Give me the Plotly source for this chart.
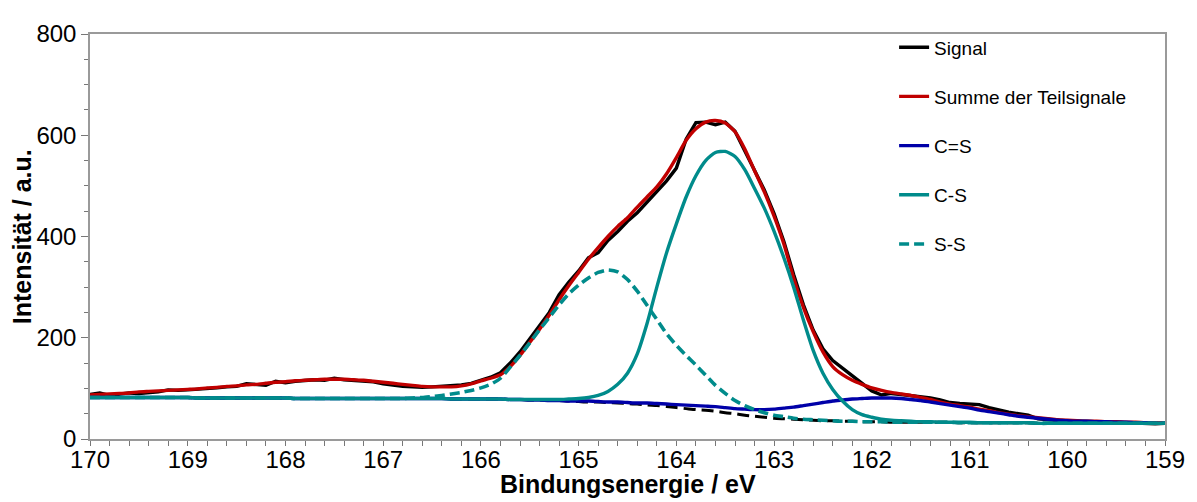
import plotly.graph_objects as go

# Binding energy grid (eV), 170.0 -> 159.0 in 0.1 eV steps
energy = [round(170 - 0.1 * i, 1) for i in range(111)]

signal = [
    88, 91, 86, 89, 91, 90, 92, 93, 97, 96,
    97, 98, 99, 101, 103, 104, 109, 107, 106, 114,
    111, 114, 116, 117, 116, 120, 117, 116, 115, 113,
    109, 106, 104, 103, 102, 103, 104, 106, 107, 110,
    116, 122, 131, 150, 172, 198, 222, 250, 285, 310,
    332, 358, 368, 392, 410, 430, 447, 468, 488, 510,
    535, 592, 625, 626, 621, 626, 608, 570, 532, 492,
    445, 390, 325, 265, 215, 178, 155, 140, 125, 108,
    95, 87, 90, 88, 86, 84, 81, 77, 72, 70,
    69, 68, 62, 57, 53, 50, 47, 40, 38, 37,
    36, 35, 34, 34, 33, 33, 32, 32, 31, 30,
    31,
]

summe = [
    87, 88, 89, 90, 91, 93, 94, 95, 96, 97,
    98, 99, 101, 102, 104, 105, 107, 108, 110, 112,
    113, 115, 116, 117, 118, 118, 118, 117, 116, 114,
    112, 110, 108, 106, 104, 103, 103, 103, 105, 109,
    115, 120, 127, 143, 165, 191, 217, 245, 275, 303,
    329, 355, 378, 400, 420, 437, 458, 478, 498, 524,
    556, 590, 613, 626, 629, 624, 607, 573, 530, 488,
    440, 385, 318, 260, 212, 172, 143, 127, 116, 108,
    101, 96, 92, 89, 86, 82, 78, 73, 69, 66,
    63, 59, 56, 52, 49, 46, 44, 42, 40, 38,
    37, 36, 35, 35, 34, 34, 33, 33, 32, 32,
    31,
]

untergrund = [
    82, 82, 82, 82, 82, 82, 82, 82, 82, 82,
    82, 81, 81, 81, 81, 81, 81, 81, 81, 81,
    81, 80, 80, 80, 80, 80, 80, 80, 80, 80,
    80, 80, 80, 80, 80, 80, 80, 79, 79, 79,
    79, 79, 79, 78, 78, 77, 77, 76, 76, 75,
    74, 73, 73, 72, 71, 70, 69, 67, 66, 64,
    62, 60, 58, 57, 55, 52, 50, 47, 45, 43,
    41, 40, 39, 38, 37, 36, 36, 35, 35, 34,
    34, 34, 33, 33, 33, 33, 33, 33, 33, 32,
    32, 32, 32, 32, 32, 32, 32, 31, 31, 31,
    31, 31, 31, 31, 31, 31, 31, 31, 31, 31,
    31,
]

c_double_s = [
    82, 82, 82, 82, 82, 82, 82, 82, 82, 82,
    82, 81, 81, 81, 81, 81, 81, 81, 81, 81,
    81, 80, 80, 80, 80, 80, 80, 80, 80, 80,
    80, 80, 80, 80, 80, 80, 80, 79, 79, 79,
    79, 79, 79, 78, 78, 77, 77, 76, 76, 75,
    75, 75, 74, 73, 73, 72, 71, 71, 70, 69,
    68, 67, 66, 65, 64, 62, 60, 59, 58, 58,
    59, 61, 63, 66, 69, 72, 75, 77, 79, 80,
    81, 81, 81, 80, 78, 76, 73, 70, 67, 64,
    61, 57, 54, 51, 48, 45, 43, 41, 39, 37,
    36, 35, 35, 34, 34, 33, 33, 32, 32, 31,
    31,
]

c_s = [
    82, 82, 82, 82, 82, 82, 82, 82, 82, 82,
    82, 81, 81, 81, 81, 81, 81, 81, 81, 81,
    81, 80, 80, 80, 80, 80, 80, 80, 80, 80,
    80, 80, 80, 80, 80, 80, 80, 79, 79, 79,
    79, 79, 79, 78, 78, 78, 78, 78, 78, 79,
    80, 82, 86, 94, 108, 130, 168, 228, 300, 368,
    425, 478, 520, 550, 566, 568, 558, 532, 495, 456,
    410, 358, 300, 235, 175, 130, 98, 75, 58, 48,
    43, 39, 37, 36, 35, 34, 34, 33, 33, 33,
    33, 32, 32, 32, 32, 32, 32, 31, 31, 31,
    31, 31, 31, 31, 31, 31, 31, 31, 31, 31,
    31,
]

s_s = [
    82, 82, 82, 82, 82, 82, 82, 82, 82, 82,
    82, 81, 81, 81, 81, 81, 81, 81, 81, 81,
    81, 80, 80, 80, 80, 80, 80, 80, 80, 80,
    80, 80, 80, 81, 82, 84, 86, 89, 92, 96,
    101, 108, 120, 142, 165, 190, 216, 240, 265, 287,
    304, 318, 329, 334, 330, 315, 292, 264, 236, 208,
    185, 165, 146, 126, 106, 90, 76, 66, 58, 52,
    47, 44, 41, 39, 38, 37, 36, 35, 35, 34,
    34, 34, 33, 33, 33, 33, 33, 33, 33, 32,
    32, 32, 32, 32, 32, 32, 32, 31, 31, 31,
    31, 31, 31, 31, 31, 31, 31, 31, 31, 31,
    31,
]

x_ticks = [170, 169, 168, 167, 166, 165, 164, 163, 162, 161, 160, 159]
y_ticks = [0, 200, 400, 600, 800]

BLACK = "#000000"
RED = "#C00000"
BLUE = "#0000A8"
TEAL = "#008B8B"
FONT = "Arial, Liberation Sans, sans-serif"

fig = go.Figure()

fig.add_trace(go.Scatter(x=energy, y=untergrund, mode="lines", showlegend=False,
                         line=dict(color=BLACK, width=3, dash="12px,6px", shape="spline", smoothing=0.6),
                         hoverinfo="skip"))
fig.add_trace(go.Scatter(x=energy, y=signal, mode="lines", name="Signal", legendgroup="g1",
                         line=dict(color=BLACK, width=3.4)))
fig.add_trace(go.Scatter(x=energy, y=summe, mode="lines", name="Summe der Teilsignale", legendgroup="g2",
                         line=dict(color=RED, width=3.4, shape="spline", smoothing=0.6)))
fig.add_trace(go.Scatter(x=energy, y=c_double_s, mode="lines", name="C=S", legendgroup="g3",
                         line=dict(color=BLUE, width=3.4, shape="spline", smoothing=0.6)))
fig.add_trace(go.Scatter(x=energy, y=c_s, mode="lines", name="C-S", legendgroup="g4",
                         line=dict(color=TEAL, width=3.4, shape="spline", smoothing=0.6)))
fig.add_trace(go.Scatter(x=energy, y=s_s, mode="lines", name="S-S", legendgroup="g5",
                         line=dict(color=TEAL, width=3.6, dash="10px,5px", shape="spline", smoothing=0.6)))

axis_common = dict(
    showline=True, linecolor="#9a9a9a", linewidth=1.5, mirror=True,
    ticks="outside", tickwidth=1.2, tickcolor="#777777",
    showgrid=False, zeroline=False, ticklabeloverflow="allow",
)

fig.update_xaxes(
    range=[170, 159], tickmode="array", tickvals=x_ticks,
    ticktext=[str(v) for v in x_ticks], ticklen=5, ticklabelstandoff=-7,
    tickfont=dict(family=FONT, size=24, color="black"),
    minor=dict(dtick=0.2, ticks="outside", ticklen=5, tickcolor="#777777", tickwidth=1),
    **axis_common,
)
fig.update_yaxes(
    range=[0, 800], tickmode="array", tickvals=y_ticks,
    ticktext=[str(v) for v in y_ticks], ticklen=7,
    tickfont=dict(family=FONT, size=24, color="black"),
    minor=dict(dtick=50, ticks="outside", ticklen=4, tickcolor="#777777", tickwidth=1),
    **axis_common,
)

# The page adds an 8 px body margin; size the figure so the plot area
# lands where the reference has it.
fig.update_layout(
    width=1189, height=494,
    margin=dict(l=82, r=29, t=12, b=63),
    plot_bgcolor="white", paper_bgcolor="white",
    font=dict(family=FONT, color="black"),
    legend=dict(
        x=0.748, y=1.014, xanchor="left", yanchor="top",
        bgcolor="rgba(0,0,0,0)", borderwidth=0,
        font=dict(family=FONT, size=19, color="black"),
        traceorder="grouped", tracegroupgap=21.5, itemwidth=30,
    ),
    annotations=[
        dict(text="<b>Bindungsenergie / eV</b>", xref="paper", yref="paper",
             x=0.5, y=-0.11, xanchor="center", yanchor="middle", showarrow=False,
             font=dict(family=FONT, size=25, color="black")),
        dict(text="<b>Intensität / a.u.</b>", xref="paper", yref="paper",
             x=-0.0635, y=0.5, xanchor="center", yanchor="middle", showarrow=False,
             textangle=-90, font=dict(family=FONT, size=25, color="black")),
    ],
)

fig.write_html("out.html")
